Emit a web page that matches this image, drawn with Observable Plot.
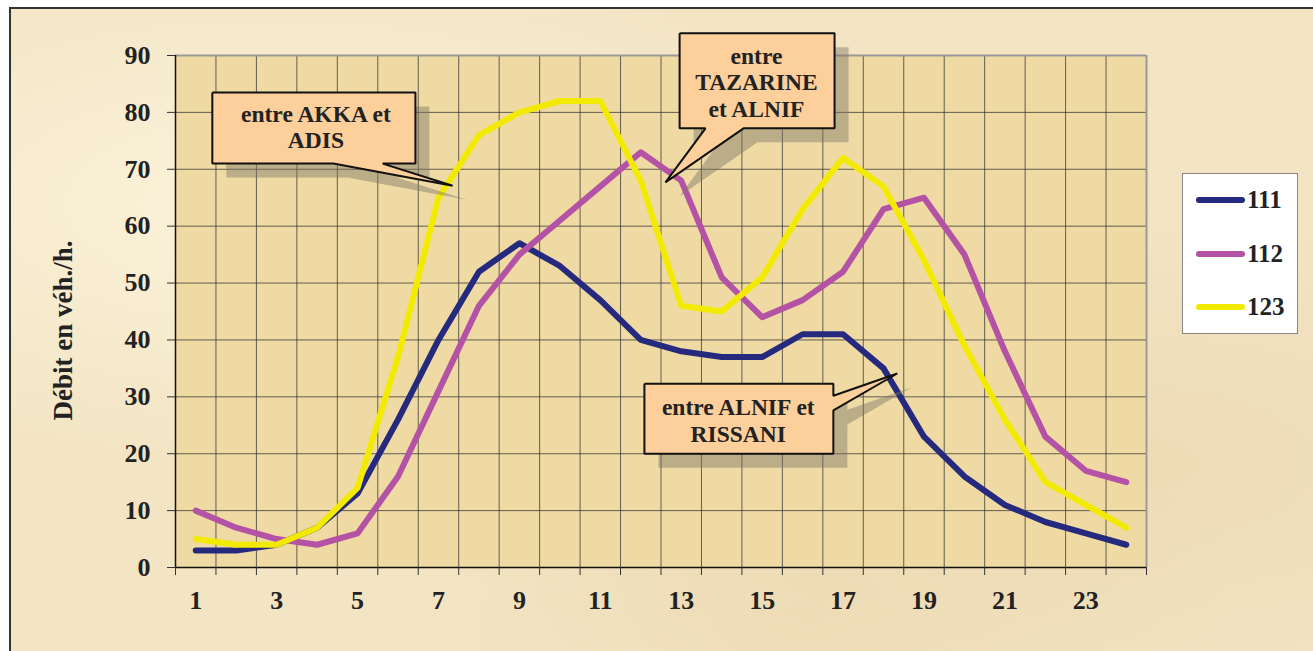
<!DOCTYPE html>
<html>
<head>
<meta charset="utf-8">
<script src="https://cdn.jsdelivr.net/npm/d3@7"></script>
<script src="https://cdn.jsdelivr.net/npm/@observablehq/plot@0.6"></script>
<style>
  html, body { margin: 0; padding: 0; background: #fff; }
  #wrap { position: relative; width: 1313px; height: 651px; overflow: hidden; background: #fff; }
  #paper { position: absolute; left: 9px; top: 7px; width: 1310px; height: 650px;
    border-left: 2px solid #333; border-top: 2px solid #333;
    background:
      radial-gradient(ellipse at 20% 30%, rgba(255,248,228,0.7), rgba(255,248,228,0) 40%),
      radial-gradient(ellipse at 85% 70%, rgba(232,210,168,0.5), rgba(232,210,168,0) 45%),
      radial-gradient(ellipse at 60% 95%, rgba(236,215,175,0.5), rgba(236,215,175,0) 40%),
      #f3e5c4; }
  #chart { position: absolute; left: 0; top: 0; }
  #legend { position: absolute; left: 1182px; top: 173px; width: 114px; height: 159px;
    background: #fff; border: 1px solid #888; font-family: "Liberation Serif", "Times New Roman", serif;
    font-weight: bold; font-size: 25px; color: #222; }
  .item { position: absolute; left: 13px; height: 26px; display: flex; align-items: center; }
  .swatch { width: 49px; height: 6px; border-radius: 3px; margin-right: 2px; }
</style>
</head>
<body>
<div id="wrap">
  <div id="paper"></div>
  <div id="chart"></div>
  <div id="legend"></div>
</div>
<script>
// ---- data ----
const hours = [1,2,3,4,5,6,7,8,9,10,11,12,13,14,15,16,17,18,19,20,21,22,23,24];
const s111 = [3,3,4,7,13,26,40,52,57,53,47,40,38,37,37,41,41,35,23,16,11,8,6,4];
const s112 = [10,7,5,4,6,16,31,46,55,61,67,73,68,51,44,47,52,63,65,55,38,23,17,15];
const s123 = [5,4,4,7,14,37,65,76,80,82,82,68,46,45,51,63,72,67,54,39,26,15,11,7];
const seriesNames = ["111", "112", "123"];
const seriesColors = ["#262a7e", "#b452a5", "#f2ea00"];
const xTickLabels = [1,3,5,7,9,11,13,15,17,19,21,23];
const yTicks = [0,10,20,30,40,50,60,70,80,90];
const yTitle = "Débit en véh./h.";
const calloutTexts = ["entre AKKA et\nADIS", "entre\nTAZARINE\net ALNIF", "entre ALNIF et\nRISSANI"];

// callout shapes, in data coordinates (hour, value)
const calloutShapes = [
  [[1.41,83.5],[6.43,83.5],[6.43,71.0],[5.62,71.0],[7.35,67.1],[4.40,71.0],[1.41,71.0],[1.41,83.5]],
  [[12.96,93.9],[16.79,93.9],[16.79,77.2],[14.54,77.2],[12.61,67.7],[13.60,77.2],[12.96,77.2],[12.96,93.9]],
  [[12.09,32.3],[16.76,32.3],[16.76,30.2],[18.34,34.1],[16.76,27.6],[16.76,20.0],[12.09,20.0],[12.09,32.3]]
];
const calloutAnchors = [[3.97,77.5],[14.86,85.4],[14.41,25.9]];

// ---- tidy tables ----
const allSeries = [s111, s112, s123];
const rows = [];
allSeries.forEach((vals, i) => vals.forEach((v, j) => rows.push({hour: hours[j], value: v, series: seriesNames[i]})));
const shapeRows = [];
calloutShapes.forEach((pts, i) => pts.forEach(([x, y]) => shapeRows.push({id: i, x, y})));
const textRows = calloutAnchors.map(([x, y], i) => ({x, y, text: calloutTexts[i]}));
const boundaries = d3.range(0.5, 25, 1);

const font = '"Liberation Serif", "Times New Roman", serif';

const chart = Plot.plot({
  width: 1313,
  height: 651,
  marginLeft: 175,
  marginTop: 55,
  marginRight: 167,
  marginBottom: 84,
  style: {background: "transparent", fontFamily: font, fontWeight: "bold", fontSize: "26px", color: "#222"},
  x: {type: "linear", domain: [0.5, 24.5]},
  y: {domain: [0, 90]},
  color: {domain: seriesNames, range: seriesColors},
  marks: [
    Plot.frame({fill: "#efdaa4", stroke: "none"}),
    Plot.gridX({ticks: boundaries, stroke: "#333", strokeOpacity: 0.75, strokeWidth: 1}),
    Plot.gridY({ticks: yTicks, stroke: "#333", strokeOpacity: 0.75, strokeWidth: 1}),
    Plot.ruleY([90], {stroke: "#999", strokeWidth: 2}),
    Plot.ruleX([24.5], {stroke: "#999", strokeWidth: 2}),
    Plot.ruleX([0.5], {stroke: "#111", strokeWidth: 1.5}),
    Plot.ruleY([0], {stroke: "#111", strokeWidth: 1.5}),
    Plot.axisX({ticks: boundaries, tickFormat: () => "", tickSize: 8, stroke: "#333"}),
    Plot.axisX({ticks: xTickLabels, tickSize: 0, tickPadding: 23, label: null, fontSize: 26, fontWeight: "bold", tickFormat: d => String(d)}),
    Plot.axisY({ticks: yTicks, tickSize: 8, tickPadding: 17, label: null, fontSize: 26, fontWeight: "bold", stroke: "#333"}),
    Plot.text([yTitle], {frameAnchor: "left", textAnchor: "middle", lineAnchor: "middle", text: d => d, rotate: -90, dx: -112, dy: 19, fontSize: 27, fontWeight: "bold"}),
    Plot.line(rows, {x: "hour", y: "value", stroke: "series", z: "series", strokeWidth: 6, strokeLinejoin: "round", strokeLinecap: "round"}),
    // callout shadows
    Plot.line(shapeRows, {x: "x", y: "y", z: "id", fill: "#7d7666", fillOpacity: 0.45, stroke: "none", dx: 14, dy: 14, curve: "linear"}),
    // callouts
    Plot.line(shapeRows, {x: "x", y: "y", z: "id", fill: "#fccf9b", stroke: "#111", strokeWidth: 2, strokeLinejoin: "miter", strokeLinecap: "butt", curve: "linear"}),
    Plot.text(textRows, {x: "x", y: "y", text: "text", fontSize: 23.5, fontWeight: "bold", lineHeight: 1.13, fill: "#222"})
  ]
});
document.getElementById("chart").appendChild(chart);

// legend
const legend = document.getElementById("legend");
const rowTops = [13, 67, 120];
seriesNames.forEach((name, i) => {
  const item = document.createElement("div");
  item.className = "item";
  item.style.top = rowTops[i] + "px";
  const sw = document.createElement("div");
  sw.className = "swatch";
  sw.style.background = seriesColors[i];
  const lab = document.createElement("span");
  lab.textContent = name;
  item.appendChild(sw);
  item.appendChild(lab);
  legend.appendChild(item);
});
</script>
</body>
</html>
